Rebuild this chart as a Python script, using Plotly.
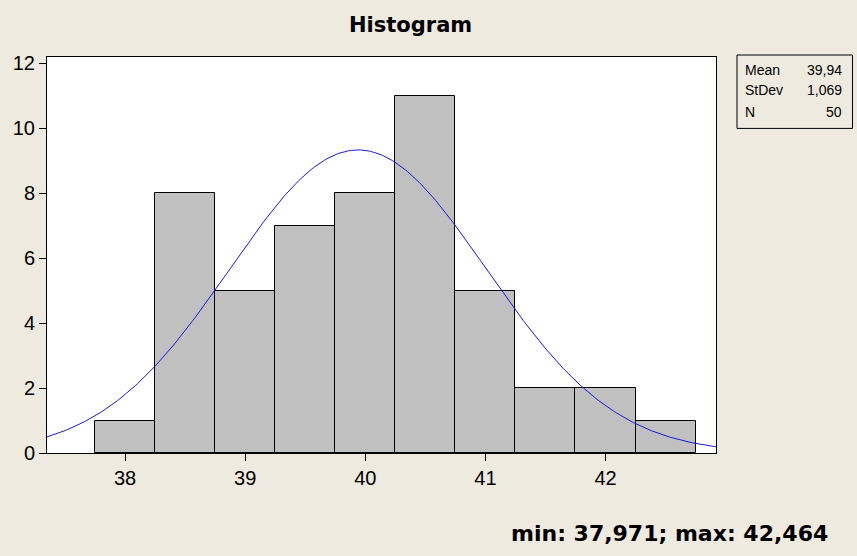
import numpy as np
import plotly.graph_objects as go

# ---- data ----
bin_centers = [38.0, 38.5, 39.0, 39.5, 40.0, 40.5, 41.0, 41.5, 42.0, 42.5]
counts = [1, 8, 5, 7, 8, 11, 5, 2, 2, 1]
bin_width = 0.5
x_ticks = [38, 39, 40, 41, 42]
y_ticks = [0, 2, 4, 6, 8, 10, 12]
stat_labels = ["Mean", "StDev", "N"]
stat_values = ["39,94", "1,069", "50"]
mean = 39.94
stdev = 1.069
n_obs = 50
title_text = "Histogram"
footer_text = "min: 37,971; max: 42,464"

W, H = 857, 556
L, R, T, B = 47, 716, 56.5, 453
x_range = [37.35, 42.92]
y_range = [0, 12.19]

def px(x):
    return (x - L) / (R - L)

def py(y):
    return (B - y) / (B - T)

# fitted normal curve from the displayed statistics
xc = np.linspace(x_range[0], x_range[1], 400)
yc = n_obs * bin_width / (stdev * np.sqrt(2 * np.pi)) * np.exp(-0.5 * ((xc - mean) / stdev) ** 2)

fig = go.Figure()
fig.add_trace(go.Bar(
    x=bin_centers, y=counts, width=bin_width,
    marker=dict(color="#C0C0C0", line=dict(color="black", width=1)),
    hoverinfo="x+y",
))
fig.add_trace(go.Scatter(
    x=xc, y=yc, mode="lines",
    line=dict(color="#1a1ad8", width=1),
    hoverinfo="skip",
))

bg = "#EEEAE0"
fig.update_layout(
    width=W, height=H,
    margin=dict(l=L, r=W - R, t=T, b=H - B, pad=0),
    paper_bgcolor=bg, plot_bgcolor="white",
    showlegend=False,
    bargap=0,
    font=dict(family="Liberation Sans", color="black"),
)
fig.update_xaxes(
    range=x_range, tickvals=x_ticks, ticktext=[str(v) for v in x_ticks],
    ticks="outside", ticklen=7, tickcolor="black", tickwidth=1,
    showline=True, linecolor="black", linewidth=1, mirror=True,
    showgrid=False, zeroline=False,
    tickfont=dict(family="Liberation Sans", size=20, color="black"),
)
fig.update_yaxes(
    range=y_range, tickvals=y_ticks, ticktext=[str(v) for v in y_ticks],
    ticks="outside", ticklen=7, tickcolor="black", tickwidth=1,
    showline=True, linecolor="black", linewidth=1, mirror=True,
    showgrid=False, zeroline=False,
    tickfont=dict(family="Liberation Sans", size=20, color="black"),
)

annotations = [
    dict(text="<b>" + title_text + "</b>", xref="paper", yref="paper",
         x=px(410), y=py(24), xanchor="center", yanchor="middle", showarrow=False,
         font=dict(family="DejaVu Sans", size=21, color="black")),
    dict(text="<b>" + footer_text + "</b>", xref="paper", yref="paper",
         x=px(669), y=py(534), xanchor="center", yanchor="middle", showarrow=False,
         font=dict(family="DejaVu Sans", size=22, color="black")),
]
row_y = [69.7, 89.5, 112]
for lab, val, ry in zip(stat_labels, stat_values, row_y):
    annotations.append(dict(text=lab, xref="paper", yref="paper", x=px(743), y=py(ry),
                            xanchor="left", yanchor="middle", showarrow=False,
                            font=dict(family="Liberation Sans", size=14, color="black")))
    annotations.append(dict(text=val, xref="paper", yref="paper", x=px(844), y=py(ry),
                            xanchor="right", yanchor="middle", showarrow=False,
                            font=dict(family="Liberation Sans", size=14, color="black")))
fig.update_layout(annotations=annotations)
fig.add_shape(type="rect", xref="paper", yref="paper",
              x0=px(737), x1=px(852.5), y0=py(128), y1=py(54.5),
              line=dict(color="black", width=1), fillcolor="rgba(0,0,0,0)")

fig.write_html("out.html")
